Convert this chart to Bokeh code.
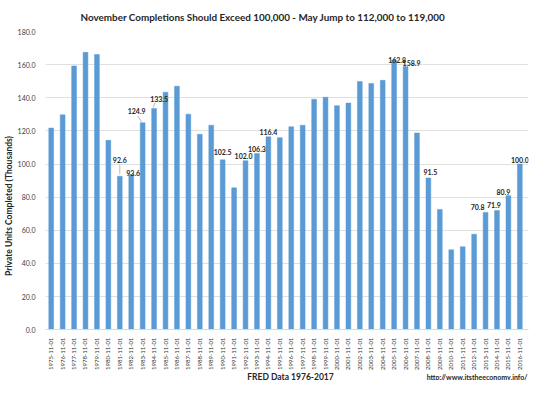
import math
from bokeh.plotting import figure
from bokeh.models import Title, Label, FixedTicker, ColumnDataSource, Range1d, NumeralTickFormatter
from bokeh.core.properties import value
from bokeh.embed import file_html
from bokeh.resources import INLINE

# ---------------- data ----------------
years = list(range(1975, 2017))
tick_labels = [f"{y}-11-01" for y in years]
completions = [121.7, 129.7, 159.2, 167.4, 166.1,
               114.3, 92.6, 93.6, 124.9, 133.5,
               143.3, 147.0, 130.1, 117.9, 123.4,
               102.5, 85.6, 102.0, 106.3, 116.4,
               115.9, 122.5, 123.4, 139.1, 140.3,
               135.2, 136.8, 149.8, 148.6, 150.5,
               162.8, 158.9, 118.7, 91.5, 72.6,
               48.2, 50.0, 57.6, 70.8, 71.9,
               80.9, 100.0]
labeled_years = [1981, 1982, 1983, 1984, 1990, 1992, 1993, 1994,
                 2005, 2006, 2008, 2013, 2014, 2015, 2016]
y_ticks = [0, 20, 40, 60, 80, 100, 120, 140, 160, 180]

title_text = "November Completions Should Exceed 100,000 - May Jump to 112,000 to 119,000"
y_title = "Private Units Completed (Thousands)"
x_title = "FRED Data 1976-2017"
url_text = "http://www.itstheeconomy.info/"

# label placement styling (pixel offsets of label centre from bar top)
label_dx = [0, 2, -6, 5, 0, -2, 0, 0, 3, 6, 2, -8, -3, -5, 0]
label_dy = [-16, -1.5, -12, -10, -8, -5, -5, -5, 0, -3, -6, -5, -6, -4, -4]
# leader lines: (year, dx0, dy0, dx1, dy1) pixels relative to bar top
leaders = [(1981, 0, -2, 0, -11), (1983, -1, -1, -5, -7), (1984, -1, -1, 1, -6)]

FONT = "Lato"
DARK = "#262626"
W, H = 529, 380
ML, MR, MT = 45, 1, 30
ZERO_Y = 329                      # canvas row of the zero line
SLOT = 11.43                      # px per category slot
PX_Y = (ZERO_Y - MT) / 180.0      # px per thousand units
x_end = -0.5 + (W - ML - MR) / SLOT
y_low = -(H - ZERO_Y) / PX_Y      # room under the zero line for the axis labels

idx = list(range(len(years)))
src = ColumnDataSource(dict(x=idx, top=completions))

p = figure(width=W, height=H, output_backend="svg", toolbar_location=None,
           x_range=Range1d(-0.5, x_end), y_range=Range1d(y_low, 180),
           min_border_left=ML, min_border_right=MR, min_border_top=MT, min_border_bottom=0,
           background_fill_color="white", border_fill_color="white")
p.outline_line_color = None

p.vbar(x="x", top="top", bottom=0, width=0.42, source=src,
       fill_color="#5B9BD5", line_color="#5B9BD5", line_width=0.5)

# axes
p.yaxis.ticker = FixedTicker(ticks=y_ticks)
p.yaxis.formatter = NumeralTickFormatter(format="0.0")
p.yaxis.axis_line_color = None
p.yaxis.major_tick_line_color = None
p.yaxis.minor_tick_line_color = None
p.yaxis.major_label_text_font = FONT
p.yaxis.major_label_text_font_size = "7px"
p.yaxis.major_label_text_color = "#404040"
p.yaxis.major_label_standoff = 4
p.yaxis.axis_label = y_title
p.yaxis.axis_label_text_font = FONT
p.yaxis.axis_label_text_font_size = "8.5px"
p.yaxis.axis_label_text_font_style = "bold"
p.yaxis.axis_label_text_color = DARK
p.yaxis.axis_label_standoff = 1

p.xaxis.fixed_location = 0
p.xaxis.ticker = FixedTicker(ticks=idx)
p.xaxis.major_label_overrides = {i: t for i, t in zip(idx, tick_labels)}
p.xaxis.major_label_orientation = math.pi / 2
p.xaxis.axis_line_color = "#d9d9d9"
p.xaxis.major_tick_line_color = None
p.xaxis.minor_tick_line_color = None
p.xaxis.major_label_text_font = FONT
p.xaxis.major_label_text_font_size = "6px"
p.xaxis.major_label_text_color = "#333333"
p.xaxis.major_label_standoff = 2

p.xgrid.grid_line_color = None
p.ygrid.grid_line_color = "#e0e0e0"
p.ygrid.grid_line_width = 1

# data labels
li = [years.index(y) for y in labeled_years]
lsrc = ColumnDataSource(dict(
    x=li, y=[completions[i] for i in li],
    t=[f"{completions[i]:.1f}" for i in li],
    dx=label_dx, dy=label_dy))
p.text(x="x", y="y", text="t", x_offset="dx", y_offset="dy", source=lsrc,
       text_font=value(FONT), text_font_size="7px", text_font_style="bold",
       text_color=DARK, text_align="center", text_baseline="middle")

sx0, sy0, sx1, sy1 = [], [], [], []
for (yr, a, b, c, d) in leaders:
    i = years.index(yr)
    v = completions[i]
    sx0.append(i + a / SLOT); sy0.append(v - b / PX_Y)
    sx1.append(i + c / SLOT); sy1.append(v - d / PX_Y)
p.segment(x0=sx0, y0=sy0, x1=sx1, y1=sy1, line_color="#a6a6a6", line_width=0.8)

# title above the frame
p.title = Title(text=title_text, align="left", offset=35, standoff=17,
                text_font=FONT, text_font_size="9.9px", text_font_style="bold", text_color=DARK)

# footer texts (screen units: from the frame's bottom-left corner)
FOOT_Y = 376
p.add_layout(Label(x=290 - ML, y=H - FOOT_Y, x_units="screen", y_units="screen", text=x_title,
                   text_font=FONT, text_font_size="8.5px", text_font_style="bold", text_color=DARK,
                   text_align="center", text_baseline="middle"))
p.add_layout(Label(x=527 - ML, y=H - FOOT_Y, x_units="screen", y_units="screen", text=url_text,
                   text_font=FONT, text_font_size="7px", text_font_style="bold", text_color=DARK,
                   text_align="right", text_baseline="middle"))

open("out.html", "w").write(file_html(p, INLINE))
